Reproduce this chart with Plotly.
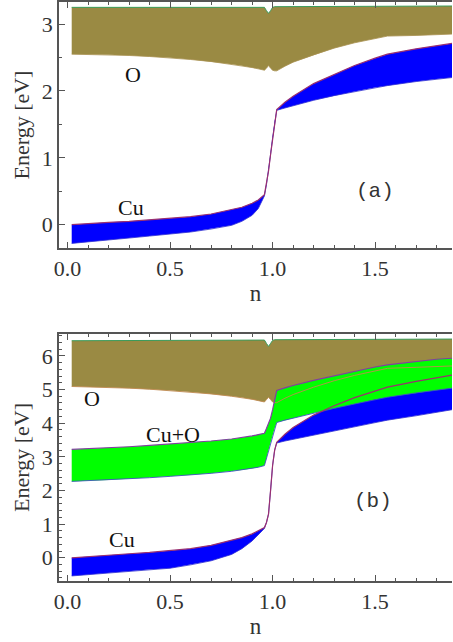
import plotly.graph_objects as go

# ---- data ----
n = [0.02, 0.1, 0.2, 0.3, 0.4, 0.5, 0.6, 0.7, 0.8, 0.85, 0.9, 0.93, 0.96, 0.97, 0.98, 0.99,
     1.0, 1.01, 1.02, 1.06, 1.1, 1.2, 1.3, 1.4, 1.5, 1.56, 1.7, 1.8, 1.875]

# panel (a)
a_cu_top = [0.00, 0.02, 0.035, 0.05, 0.07, 0.095, 0.12, 0.16, 0.22, 0.26, 0.32, 0.37, 0.45, 0.60, 0.80, 1.05,
            1.30, 1.55, 1.72, 1.83, 1.92, 2.11, 2.25, 2.38, 2.49, 2.55, 2.63, 2.68, 2.71]
a_cu_bot = [-0.28, -0.26, -0.23, -0.20, -0.17, -0.14, -0.11, -0.065, -0.01, 0.05, 0.14, 0.24, 0.43, 0.60, 0.80, 1.05,
            1.30, 1.55, 1.71, 1.745, 1.78, 1.86, 1.93, 1.99, 2.05, 2.08, 2.14, 2.18, 2.20]
a_o_top = [3.25, 3.25, 3.25, 3.25, 3.25, 3.25, 3.25, 3.25, 3.25, 3.25, 3.25, 3.25, 3.25, 3.20, 3.16, 3.20,
           3.25, 3.26, 3.26, 3.26, 3.26, 3.26, 3.26, 3.26, 3.27, 3.27, 3.27, 3.27, 3.27]
a_o_bot = [2.55, 2.545, 2.54, 2.53, 2.515, 2.495, 2.47, 2.44, 2.40, 2.375, 2.35, 2.33, 2.31, 2.34, 2.38, 2.34,
           2.31, 2.30, 2.30, 2.37, 2.43, 2.54, 2.64, 2.72, 2.78, 2.82, 2.83, 2.84, 2.85]

# panel (b)
b_cu_top = [0.00, 0.04, 0.08, 0.12, 0.16, 0.21, 0.27, 0.37, 0.52, 0.60, 0.71, 0.80, 0.90, 1.05, 1.30, 2.00,
            2.75, 3.20, 3.43, 3.67, 3.87, 4.24, 4.52, 4.76, 4.96, 5.07, 5.24, 5.35, 5.43]
b_cu_bot = [-0.54, -0.50, -0.45, -0.40, -0.35, -0.31, -0.21, -0.09, 0.10, 0.27, 0.50, 0.68, 0.87, 1.05, 1.30, 2.00,
            2.75, 3.20, 3.41, 3.47, 3.52, 3.65, 3.78, 3.90, 4.02, 4.09, 4.22, 4.33, 4.40]
b_co_top = [3.22, 3.24, 3.27, 3.30, 3.34, 3.38, 3.42, 3.47, 3.53, 3.57, 3.62, 3.66, 3.70, 3.84, 3.97, 4.15,
            4.40, 4.72, 4.97, 5.05, 5.12, 5.27, 5.40, 5.55, 5.67, 5.73, 5.83, 5.90, 5.93]
b_co_bot = [2.27, 2.29, 2.31, 2.34, 2.38, 2.42, 2.46, 2.51, 2.57, 2.61, 2.65, 2.69, 2.74, 2.95, 3.20, 3.43,
            3.65, 3.85, 4.02, 4.09, 4.15, 4.30, 4.44, 4.57, 4.70, 4.77, 4.90, 4.98, 5.04]
b_o_top = [6.45, 6.45, 6.45, 6.46, 6.46, 6.46, 6.46, 6.46, 6.47, 6.47, 6.47, 6.47, 6.47, 6.37, 6.28, 6.37,
           6.46, 6.48, 6.48, 6.48, 6.48, 6.48, 6.49, 6.49, 6.49, 6.50, 6.50, 6.50, 6.50]
b_o_bot = [5.09, 5.08, 5.06, 5.04, 5.01, 4.97, 4.93, 4.87, 4.80, 4.76, 4.71, 4.67, 4.63, 4.70, 4.77, 4.70,
           4.63, 4.61, 4.61, 4.74, 4.85, 5.07, 5.26, 5.42, 5.56, 5.63, 5.66, 5.68, 5.70]

OLIVE = "#9a8a43"
BLUE = "#0000ff"
GREEN = "#00ff00"

fig = go.Figure()


def band(top, bot, color, xa, ya):
    fig.add_trace(go.Scatter(
        x=n + n[::-1], y=top + bot[::-1], fill="toself", fillcolor=color,
        mode="lines", line=dict(width=0, color=color), hoverinfo="skip",
        showlegend=False, xaxis=xa, yaxis=ya))


def edge(y, color, xa, ya, w=1.0):
    fig.add_trace(go.Scatter(x=n, y=y, mode="lines", line=dict(color=color, width=w),
                             showlegend=False, hoverinfo="skip", xaxis=xa, yaxis=ya))


# panel (a)
band(a_o_top, a_o_bot, OLIVE, "x", "y")
band(a_cu_top, a_cu_bot, BLUE, "x", "y")
edge(a_o_top, "#3a9a5a", "x", "y")
edge(a_o_bot, "#a89050", "x", "y", 0.8)
edge(a_cu_bot, "#3030d0", "x", "y", 0.8)
edge(a_cu_top, "#9a3070", "x", "y", 1.2)

# panel (b)
band(b_o_top, b_o_bot, OLIVE, "x2", "y2")
band(b_cu_top, b_cu_bot, BLUE, "x2", "y2")
band(b_co_top, b_co_bot, GREEN, "x2", "y2")
edge(b_o_top, "#3a9a5a", "x2", "y2")
edge(b_o_bot, "#c08a50", "x2", "y2", 0.9)
edge(b_cu_bot, "#3030d0", "x2", "y2", 0.8)
edge(b_co_bot, "#4050c0", "x2", "y2", 0.9)
edge(b_cu_top, "#9a3070", "x2", "y2", 1.2)
edge(b_co_top, "#8040a0", "x2", "y2", 1.2)

SERIF = "Liberation Serif"
tickfont = dict(family=SERIF, size=22, color="#333333")
titlefont = dict(family=SERIF, size=22, color="#333333")


def xaxis(anchor):
    return dict(anchor=anchor, range=[-0.042, 1.875], tickmode="linear", tick0=0, dtick=0.5,
                tickformat=".1f", ticks="inside", ticklen=6, tickwidth=1, tickcolor="#555555",
                minor=dict(dtick=0.1, ticks="inside", ticklen=3, tickcolor="#555555", tickwidth=1),
                showline=True, linecolor="#555555", linewidth=1.5, mirror="ticks",
                showgrid=False, zeroline=False, tickfont=tickfont,
                title=dict(text="n", font=dict(family=SERIF, size=23, color="#333333"), standoff=4))


def yaxis(anchor, domain, rng, minor):
    return dict(anchor=anchor, domain=domain, range=rng, tickmode="linear", tick0=0, dtick=1,
                ticks="inside", ticklen=6, tickwidth=1, tickcolor="#555555",
                minor=dict(dtick=minor, ticks="inside", ticklen=3, tickcolor="#555555", tickwidth=1),
                showline=True, linecolor="#555555", linewidth=1.5, mirror=False,
                showgrid=False, zeroline=False, tickfont=tickfont,
                title=dict(text="Energy [eV]", font=titlefont, standoff=6))


fig.update_layout(
    width=453, height=642, margin=dict(l=59, r=1, t=2, b=61),
    plot_bgcolor="white", paper_bgcolor="white",
    xaxis=xaxis("y"), yaxis=yaxis("x", [0.575, 1.0], [-0.35, 3.33], 0.5),
    xaxis2=xaxis("y2"), yaxis2=yaxis("x2", [0.0, 0.4266], [-0.69, 6.65], 0.2),
)

lab = dict(family=SERIF, size=22, color="#111111")
mono = dict(family="Liberation Mono", size=21, color="#333333")
ann = [
    ("O", 0.317, 2.25, "x", "y", lab),
    ("Cu", 0.309, 0.25, "x", "y", lab),
    ("(a)", 1.50, 0.49, "x", "y", mono),
    ("O", 0.12, 4.72, "x2", "y2", lab),
    ("Cu+O", 0.515, 3.67, "x2", "y2", lab),
    ("Cu", 0.263, 0.53, "x2", "y2", lab),
    ("(b)", 1.49, 1.67, "x2", "y2", mono),
]
for t, xx, yy, xr, yr, f in ann:
    fig.add_annotation(text=t, x=xx, y=yy, xref=xr, yref=yr, showarrow=False, font=f)

fig.write_html("out.html")
